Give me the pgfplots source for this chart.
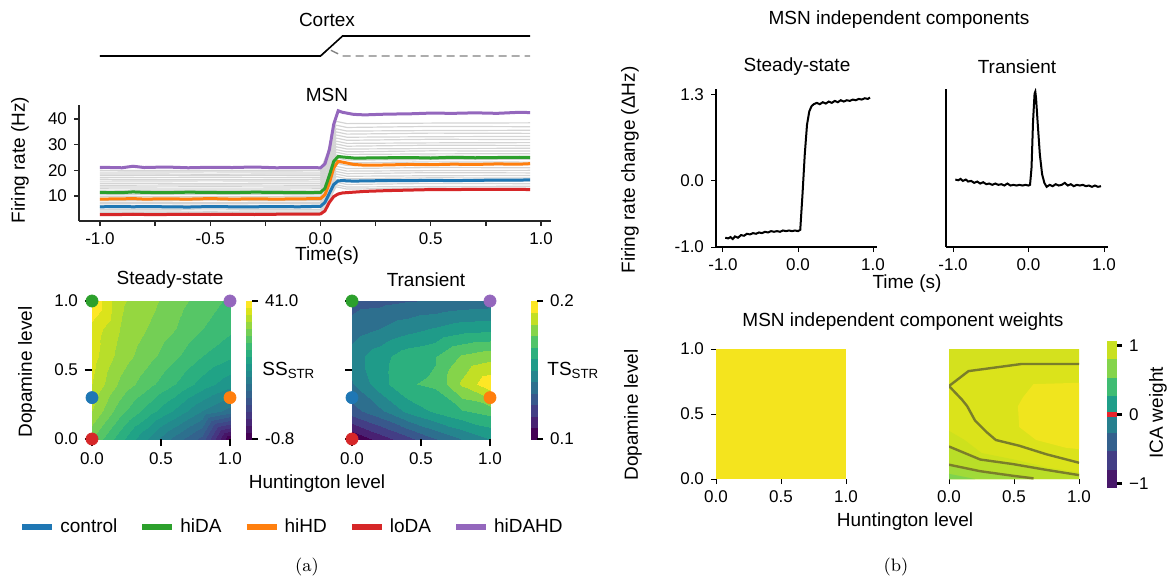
\documentclass[border=0pt]{standalone}
\usepackage{fontspec}
\setsansfont{Liberation Sans}
\usepackage{pgfplots}
\usepackage{pgfplotstable}
\pgfplotsset{compat=1.18}

\definecolor{cctrl}{HTML}{1F77B4}
\definecolor{chida}{HTML}{2CA02C}
\definecolor{chihd}{HTML}{FF7F0E}
\definecolor{cloda}{HTML}{D62728}
\definecolor{chidahd}{HTML}{9467BD}
\definecolor{icayel}{RGB}{244,228,30}
\definecolor{icabase}{RGB}{219,227,27}
\definecolor{icatop}{RGB}{212,225,30}
\definecolor{icabright}{RGB}{240,229,30}
\definecolor{icar1}{RGB}{205,225,29}
\definecolor{icar2}{RGB}{185,222,40}
\definecolor{icar3}{RGB}{160,218,57}
\definecolor{icar4}{RGB}{127,211,78}
\definecolor{cline}{RGB}{122,126,42}

\newcommand{\lab}{\sffamily\fontsize{9.5}{11}\selectfont}
\newcommand{\tck}{\sffamily\fontsize{8.5}{10}\selectfont}

\pgfplotsset{
  every axis/.append style={
    scale only axis, font=\lab,
    tick label style={font=\tck},
    /pgf/number format/assume math mode=true,
    enlargelimits=false,
  },
}

% MSN mean firing rates (Hz)
\pgfplotstableread{
t     ctrl  hida  hihd  loda  hidahd
-1.0  5.8   11.4  8.8   2.8   21.2
-0.9  5.9   11.3  8.9   2.8   21.0
-0.85 5.8   11.6  9.0   2.9   21.6
-0.8  5.9   11.4  8.8   2.8   21.1
-0.7  5.8   11.3  8.9   2.8   21.3
-0.6  5.7   11.5  8.8   2.9   21.0
-0.5  5.9   11.4  9.0   2.8   21.2
-0.4  5.8   11.3  8.8   2.9   21.1
-0.3  5.8   11.5  8.9   2.8   21.3
-0.2  5.9   11.4  8.8   2.9   21.0
-0.1  5.8   11.3  8.9   2.9   21.1
0.0   6.0   11.4  9.0   3.0   21.0
0.02  7.5   13.0  10.5  4.2   22.5
0.04  11.0  18.0  15.0  7.5   28.0
0.06  14.5  23.5  21.0  9.8   38.0
0.08  15.9  25.4  23.5  10.8  43.2
0.1   16.0  25.2  23.2  11.2  42.6
0.15  15.8  24.8  22.3  11.5  41.8
0.2   15.9  24.8  22.0  11.8  41.6
0.3   16.0  24.9  22.1  12.1  41.9
0.4   16.0  25.0  22.3  12.3  42.0
0.5   16.1  24.8  22.2  12.5  42.3
0.6   16.0  25.1  22.4  12.5  42.2
0.7   16.1  24.9  22.3  12.6  42.4
0.8   16.2  25.0  22.5  12.6  42.2
0.9   16.2  25.1  22.4  12.6  42.6
0.95  16.3  25.0  22.6  12.5  42.5
}\msn

% other MSN conditions (grey)
\pgfplotstableread{
t g1 g2 g3 g4 g5 g6 g7 g8 g9 g10 g11 g12 g13 g14 g15 g16 g17 g18 g19 g20 g21 g22 g23 g24
-1.0 3.5 4.2 4.8 5.5 6.3 7.0 7.6 8.3 9.0 9.8 10.5 11.2 12.0 12.8 13.5 14.2 15.0 15.8 16.5 17.2 18.0 18.6 19.3 20.0
-0.5 3.6 4.1 4.9 5.4 6.4 7.1 7.5 8.4 9.1 9.7 10.6 11.1 12.1 12.7 13.6 14.3 14.9 15.9 16.4 17.3 18.1 18.5 19.4 19.9
0.0 3.5 4.2 4.8 5.5 6.3 7.0 7.6 8.3 9.0 9.8 10.5 11.2 12.0 12.8 13.5 14.2 15.0 15.8 16.5 17.2 18.0 18.6 19.3 20.0
0.03 6.8 7.6 8.3 9.1 10.0 10.9 11.6 12.4 13.2 14.1 14.9 15.8 16.7 17.6 18.4 19.2 20.1 21.1 21.9 22.8 23.7 24.6 25.5 26.5
0.07 13.6 14.4 15.4 16.4 17.6 18.6 19.6 20.6 21.6 22.8 23.8 24.9 26.0 27.1 28.1 29.2 30.3 31.4 32.6 33.8 35.0 36.2 37.6 39.1
0.12 12.7 13.5 14.5 15.5 16.7 17.7 18.7 19.7 20.7 21.9 22.9 24.0 25.1 26.2 27.2 28.3 29.4 30.5 31.7 32.9 34.1 35.3 36.7 38.2
0.5 13.1 13.7 14.9 15.7 17.1 17.9 19.1 19.9 21.1 22.1 23.3 24.2 25.5 26.4 27.6 28.5 29.8 30.7 32.1 33.1 34.5 35.5 37.1 38.4
0.95 13.0 13.8 14.8 15.8 17.0 18.0 19.0 20.0 21.0 22.2 23.2 24.3 25.4 26.5 27.5 28.6 29.7 30.8 32.0 33.2 34.4 35.6 37.0 38.5
}\greys

% independent components
\pgfplotstableread{
t v
-0.97 -0.86
-0.93 -0.87
-0.9 -0.85
-0.87 -0.88
-0.84 -0.84
-0.8 -0.86
-0.76 -0.82
-0.72 -0.83
-0.68 -0.80
-0.64 -0.81
-0.6 -0.79
-0.56 -0.80
-0.52 -0.78
-0.48 -0.79
-0.44 -0.77
-0.4 -0.78
-0.36 -0.76
-0.32 -0.77
-0.28 -0.76
-0.24 -0.77
-0.2 -0.75
-0.16 -0.76
-0.12 -0.75
-0.08 -0.76
-0.04 -0.75
0.0 -0.76
0.03 -0.74
0.06 -0.2
0.09 0.4
0.12 0.85
0.15 1.05
0.18 1.13
0.21 1.16
0.25 1.18
0.29 1.16
0.33 1.19
0.37 1.17
0.41 1.20
0.45 1.18
0.49 1.21
0.53 1.19
0.57 1.22
0.61 1.20
0.65 1.22
0.69 1.21
0.73 1.23
0.77 1.22
0.81 1.24
0.85 1.23
0.89 1.25
0.93 1.24
0.96 1.26
}\icass

\pgfplotstableread{
t v
-0.97 0.02
-0.93 0.01
-0.9 0.03
-0.87 0.0
-0.83 0.02
-0.8 -0.01
-0.76 0.0
-0.72 -0.03
-0.68 -0.01
-0.64 -0.04
-0.6 -0.02
-0.56 -0.05
-0.52 -0.04
-0.48 -0.06
-0.44 -0.04
-0.4 -0.06
-0.36 -0.05
-0.32 -0.07
-0.28 -0.04
-0.24 -0.07
-0.2 -0.06
-0.16 -0.07
-0.12 -0.06
-0.08 -0.07
-0.04 -0.06
0.0 -0.07
0.02 -0.06
0.04 0.2
0.06 0.9
0.08 1.32
0.09 1.35
0.1 1.25
0.12 0.9
0.15 0.4
0.18 0.1
0.21 -0.03
0.24 -0.09
0.28 -0.06
0.32 -0.08
0.36 -0.05
0.4 -0.07
0.44 -0.06
0.48 -0.03
0.52 -0.07
0.56 -0.05
0.6 -0.08
0.64 -0.06
0.68 -0.07
0.72 -0.06
0.76 -0.08
0.8 -0.07
0.84 -0.09
0.88 -0.07
0.92 -0.09
0.96 -0.08
}\icats

\begin{document}
\begin{tikzpicture}
\path[use as bounding box] (0,0) rectangle (585.5pt,289.5pt);

% ---------- (a) cortex input ----------
\begin{axis}[at={(39.5pt,259.5pt)}, anchor=south west, width=236pt, height=15pt,
  xmin=-1.095, xmax=1.045, ymin=-0.2, ymax=1.3, hide axis, clip=false]
\addplot[gray, line width=0.7pt, dash pattern=on 4pt off 2.5pt] coordinates {(-1,0) (0,0) (0.035,0.35) (0.1,0) (0.95,0)};
\addplot[black, line width=0.8pt] coordinates {(-1,0) (0,0) (0.1,1) (0.95,1)};
\end{axis}
\node[font=\lab] at (163.5pt,279.5pt) {Cortex};

% ---------- (a) MSN ----------
\begin{axis}[at={(39.5pt,179pt)}, anchor=south west, width=236pt, height=58pt,
  xmin=-1.095, xmax=1.045, ymin=0.27, ymax=45.45,
  axis lines*=left, axis line style={-, line width=0.7pt, black!85},
  tick align=outside, major tick length=2.5pt, minor tick length=2.5pt,
  tick style={black!85, line width=0.6pt},
  xtick={-1,-0.5,0,0.5,1}, xticklabels={-1.0,-0.5,0.0,0.5,1.0},
  minor xtick={-0.75,-0.25,0.25,0.75},
  ytick={10,20,30,40}]
\pgfplotsinvokeforeach{1,...,24}{
  \addplot[black!17, line width=0.6pt] table[x=t, y index=#1] {\greys};
}
\addplot[cloda, line width=1.5pt] table[x=t, y=loda] {\msn};
\addplot[cctrl, line width=1.5pt] table[x=t, y=ctrl] {\msn};
\addplot[chihd, line width=1.5pt] table[x=t, y=hihd] {\msn};
\addplot[chida, line width=1.5pt] table[x=t, y=hida] {\msn};
\addplot[chidahd, line width=1.5pt] table[x=t, y=hidahd] {\msn};
\end{axis}
\node[font=\lab] at (163.5pt,242pt) {MSN};
\node[font=\lab] at (163.5pt,161.5pt) {Time(s)};
\node[font=\lab, rotate=90] at (10pt,209.5pt) {Firing rate (Hz)};

% ---------- (a) steady-state map ----------
\begin{axis}[at={(46pt,70pt)}, anchor=south west, width=69pt, height=69pt,
  view={0}{90}, xmin=0, xmax=1, ymin=0, ymax=1,
  colormap/viridis, point meta min=-0.8, point meta max=41,
  axis line style={draw=none}, axis on top, clip=false,
  tick align=outside, major tick length=3.5pt,
  tick style={black, line width=1.4pt},
  xtick={0,0.5,1}, xticklabels={0.0,0.5,1.0},
  ytick={0,0.5,1}, yticklabels={0.0,0.5,1.0}, ztick=\empty,
  xtick pos=left, ytick pos=left,
  colorbar,
  colorbar style={at={(parent axis.south east)}, anchor=south west, xshift=-0.5pt,
    width=3pt, ytick={-0.8,41}, yticklabels={-0.8,41.0},
    axis line style={draw=none}, major tick length=3pt,
    ytick style={black, line width=1.4pt}, tick align=outside,
    ytick pos=right, yticklabel pos=right}]
\addplot3[contour filled={number=20}, mesh/cols=6] table {
x y z
0 0 30.6
0.2 0 25.1
0.4 0 20.1
0.6 0 15.1
0.8 0 11.0
1 0 -0.8
0 0.2 34.7
0.2 0.2 29.3
0.4 0.2 25.5
0.6 0.2 21.8
0.8 0.2 18.0
1 0.2 15.0
0 0.4 36.8
0.2 0.4 32.2
0.4 0.4 29.3
0.6 0.4 26.4
0.8 0.4 23.4
1 0.4 20.9
0 0.6 37.7
0.2 0.6 33.9
0.4 0.6 31.4
0.6 0.6 28.9
0.8 0.6 26.4
1 0.6 24.7
0 0.8 38.1
0.2 0.8 34.7
0.4 0.8 32.6
0.6 0.8 30.6
0.8 0.8 28.5
1 0.8 26.8
0 1 41.0
0.2 1 35.1
0.4 1 33.5
0.6 1 31.4
0.8 1 29.7
1 1 28.0
};
\addplot3[only marks, mark=*, mark size=3pt, cctrl] coordinates {(0,0.3,41)};
\addplot3[only marks, mark=*, mark size=3pt, chida] coordinates {(0,1,41)};
\addplot3[only marks, mark=*, mark size=3pt, chihd] coordinates {(1,0.3,41)};
\addplot3[only marks, mark=*, mark size=3pt, cloda] coordinates {(0,0,41)};
\addplot3[only marks, mark=*, mark size=3pt, chidahd] coordinates {(1,1,41)};
\end{axis}
\node[font=\lab] at (85pt,149.5pt) {Steady-state};
\node[font=\lab, anchor=west, inner sep=0pt] at (131pt,104.5pt) {SS\textsubscript{STR}};

% ---------- (a) transient map ----------
\begin{axis}[at={(176pt,70pt)}, anchor=south west, width=69pt, height=69pt,
  view={0}{90}, xmin=0, xmax=1, ymin=0, ymax=1,
  colormap/viridis, point meta min=0.1, point meta max=0.2,
  axis line style={draw=none}, axis on top, clip=false,
  tick align=outside, major tick length=3.5pt,
  tick style={black, line width=1.4pt},
  xtick={0,0.5,1}, xticklabels={0.0,0.5,1.0},
  ytick={0,0.5,1}, yticklabels={,,}, ztick=\empty,
  xtick pos=left, ytick pos=left,
  colorbar,
  colorbar style={at={(parent axis.south east)}, anchor=south west, xshift=12pt,
    width=3pt, ytick={0.1,0.2}, yticklabels={0.1,0.2},
    axis line style={draw=none}, major tick length=3pt,
    ytick style={black, line width=1.4pt}, tick align=outside,
    ytick pos=right, yticklabel pos=right}]
\addplot3[contour filled={number=12}, mesh/cols=6] table {
x y z
0 0 0.100
0.2 0 0.112
0.4 0 0.122
0.6 0 0.133
0.8 0 0.142
1 0 0.150
0 0.2 0.130
0.2 0.2 0.140
0.4 0.2 0.152
0.6 0.2 0.160
0.8 0.2 0.166
1 0.2 0.170
0 0.4 0.141
0.2 0.4 0.155
0.4 0.4 0.166
0.6 0.4 0.168
0.8 0.4 0.185
1 0.4 0.198
0 0.6 0.146
0.2 0.6 0.155
0.4 0.6 0.163
0.6 0.6 0.166
0.8 0.6 0.176
1 0.6 0.180
0 0.8 0.137
0.2 0.8 0.142
0.4 0.8 0.147
0.6 0.8 0.151
0.8 0.8 0.155
1 0.8 0.156
0 1 0.130
0.2 1 0.131
0.4 1 0.133
0.6 1 0.134
0.8 1 0.136
1 1 0.137
};
\addplot3[only marks, mark=*, mark size=3pt, cctrl] coordinates {(0,0.3,0.2)};
\addplot3[only marks, mark=*, mark size=3pt, chida] coordinates {(0,1,0.2)};
\addplot3[only marks, mark=*, mark size=3pt, chihd] coordinates {(1,0.3,0.2)};
\addplot3[only marks, mark=*, mark size=3pt, cloda] coordinates {(0,0,0.2)};
\addplot3[only marks, mark=*, mark size=3pt, chidahd] coordinates {(1,1,0.2)};
\end{axis}
\node[font=\lab] at (213pt,149.5pt) {Transient};
\node[font=\lab, anchor=west, inner sep=0pt] at (273.5pt,104.5pt) {TS\textsubscript{STR}};
\node[font=\lab, rotate=90] at (13.5pt,103.5pt) {Dopamine level};
\node[font=\lab] at (158.5pt,47.5pt) {Huntington level};

% ---------- (a) legend ----------
\begin{axis}[at={(9.5pt,26pt)}, anchor=west, width=1pt, height=1pt,
  hide axis, xmin=0, xmax=1, ymin=0, ymax=1,
  legend columns=5,
  legend image code/.code={\draw[#1, line width=3pt] (0pt,0pt) -- (15pt,0pt);},
  legend style={draw=none, fill=none, at={(0,0.5)}, anchor=west, inner sep=0pt,
    font=\lab, /tikz/every even column/.append style={column sep=9pt},
    /tikz/every odd column/.append style={column sep=0.5pt}}]
\addlegendimage{cctrl}\addlegendentry{control}
\addlegendimage{chida}\addlegendentry{hiDA}
\addlegendimage{chihd}\addlegendentry{hiHD}
\addlegendimage{cloda}\addlegendentry{loDA}
\addlegendimage{chidahd}\addlegendentry{hiDAHD}
\end{axis}

% ---------- (b) independent components ----------
\begin{axis}[at={(358pt,166pt)}, anchor=south west, width=80.5pt, height=79pt,
  xmin=-1.093, xmax=1.053, ymin=-1, ymax=1.39,
  axis lines*=left, axis line style={-, line width=0.6pt, black},
  tick align=outside, major tick length=2.5pt, tick style={black, line width=0.5pt},
  xtick={-1,0,1}, xticklabels={-1.0,0.0,1.0},
  ytick={-1,0,1.3}, yticklabels={-1.0,0.0,1.3}]
\addplot[black, line width=1pt] table[x=t, y=v] {\icass};
\end{axis}
\begin{axis}[at={(473pt,166pt)}, anchor=south west, width=81pt, height=79pt,
  xmin=-1.093, xmax=1.053, ymin=-1, ymax=1.39,
  axis lines*=left, axis line style={-, line width=0.6pt, black},
  tick align=outside, major tick length=2.5pt, tick style={black, line width=0.5pt},
  xtick={-1,0,1}, xticklabels={-1.0,0.0,1.0}, ytick=\empty]
\addplot[black, line width=1pt] table[x=t, y=v] {\icats};
\end{axis}
\node[font=\lab] at (449.5pt,279.5pt) {MSN independent components};
\node[font=\lab] at (398.5pt,256pt) {Steady-state};
\node[font=\lab] at (508.5pt,256pt) {Transient};
\node[font=\lab, rotate=90] at (315pt,204.5pt) {Firing rate change (ΔHz)};
\node[font=\lab] at (453.5pt,147.5pt) {Time (s)};

% ---------- (b) component weights ----------
\begin{axis}[at={(358pt,50pt)}, anchor=south west, width=65pt, height=65pt,
  xmin=0, xmax=1, ymin=0, ymax=1, axis line style={draw=none},
  tick align=outside, major tick length=2.5pt, tick style={black, line width=0.5pt},
  xtick={0,0.5,1}, xticklabels={0.0,0.5,1.0}, ytick={0,0.5,1}, yticklabels={0.0,0.5,1.0},
  xtick pos=left, ytick pos=left]
\addplot[fill=icayel, draw=none] coordinates {(0,0) (1,0) (1,1) (0,1)} -- cycle;
\end{axis}
\begin{axis}[at={(474.5pt,50pt)}, anchor=south west, width=65pt, height=65pt,
  xmin=0, xmax=1, ymin=0, ymax=1, axis line style={draw=none},
  tick align=outside, major tick length=2.5pt, tick style={black, line width=0.5pt},
  xtick={0,0.5,1}, xticklabels={0.0,0.5,1.0}, ytick=\empty, xtick pos=left]
\addplot[fill=icabase, draw=none] coordinates {(0,0) (1,0) (1,1) (0,1)} -- cycle;
\addplot[fill=icatop, draw=none] coordinates {(0,1) (0,0.715) (0.15,0.83) (0.56,0.885) (1,0.885) (1,1)} -- cycle;
\addplot[fill=icabright, draw=none] coordinates {(1,0.74) (0.65,0.73) (0.57,0.63) (0.53,0.56) (0.54,0.40) (0.67,0.30) (0.9,0.24) (1,0.23)} -- cycle;
\addplot[fill=icar1, draw=none] coordinates {(0,0) (0,0.37) (0.12,0.3) (0.25,0.2) (0.5,0.15) (0.75,0.09) (1,0.05) (1,0)} -- cycle;
\addplot[fill=icar2, draw=none] coordinates {(0,0) (0,0.25) (0.24,0.15) (0.49,0.115) (0.75,0.07) (1,0.03) (1,0)} -- cycle;
\addplot[fill=icar3, draw=none] coordinates {(0,0) (0,0.11) (0.24,0.06) (0.49,0.025) (0.65,0)} -- cycle;
\addplot[fill=icar4, draw=none] coordinates {(0,0) (0,0.04) (0.1,0.02) (0.2,0)} -- cycle;
\addplot[cline, line width=1.2pt] coordinates {(0,0.715) (0.15,0.83) (0.56,0.885) (1,0.885)};
\addplot[cline, line width=1.2pt] coordinates {(0,0.715) (0.1,0.61) (0.14,0.56) (0.2,0.45) (0.29,0.36) (0.36,0.3) (0.54,0.256) (0.75,0.19) (1,0.125)};
\addplot[cline, line width=1.2pt] coordinates {(0,0.25) (0.24,0.15) (0.49,0.115) (0.75,0.07) (1,0.03)};
\addplot[cline, line width=1.2pt] coordinates {(0,0.11) (0.24,0.06) (0.49,0.025) (0.65,0.005)};
\end{axis}
% ICA weight colour bar
\begin{axis}[at={(553.5pt,45.5pt)}, anchor=south west, width=5pt, height=73.5pt,
  xmin=0, xmax=1, ymin=-1.07, ymax=1.07, axis line style={draw=none},
  xtick=\empty, ytick={-1,0,1}, yticklabels={−1,0,1},
  ytick pos=right, yticklabel pos=right,
  tick align=outside, major tick length=2.5pt, tick style={black, line width=1.4pt}]
\addplot[fill={rgb,255:red,72;green,24;blue,106}, draw=none] coordinates {(0,-1.07) (1,-1.07) (1,-0.8025) (0,-0.8025)} -- cycle;
\addplot[fill={rgb,255:red,67;green,62;blue,133}, draw=none] coordinates {(0,-0.8025) (1,-0.8025) (1,-0.535) (0,-0.535)} -- cycle;
\addplot[fill={rgb,255:red,52;green,96;blue,141}, draw=none] coordinates {(0,-0.535) (1,-0.535) (1,-0.2675) (0,-0.2675)} -- cycle;
\addplot[fill={rgb,255:red,39;green,127;blue,142}, draw=none] coordinates {(0,-0.2675) (1,-0.2675) (1,0) (0,0)} -- cycle;
\addplot[fill={rgb,255:red,31;green,158;blue,137}, draw=none] coordinates {(0,0) (1,0) (1,0.2675) (0,0.2675)} -- cycle;
\addplot[fill={rgb,255:red,63;green,188;blue,115}, draw=none] coordinates {(0,0.2675) (1,0.2675) (1,0.535) (0,0.535)} -- cycle;
\addplot[fill={rgb,255:red,132;green,212;blue,75}, draw=none] coordinates {(0,0.535) (1,0.535) (1,0.8025) (0,0.8025)} -- cycle;
\addplot[fill={rgb,255:red,200;green,224;blue,32}, draw=none] coordinates {(0,0.8025) (1,0.8025) (1,1.07) (0,1.07)} -- cycle;
\addplot[fill={rgb,255:red,232;green,36;blue,44}, draw=none] coordinates {(0,-0.04) (1,-0.04) (1,0.04) (0,0.04)} -- cycle;
\end{axis}
\node[font=\lab] at (451.5pt,128.5pt) {MSN independent component weights};
\node[font=\lab, rotate=90] at (316.5pt,82pt) {Dopamine level};
\node[font=\lab] at (452.5pt,28.5pt) {Huntington level};
\node[font=\lab, rotate=90] at (579pt,83pt) {ICA weight};

% captions
\node[font=\rmfamily\fontsize{9}{11}\selectfont] at (153.5pt,6pt) {(a)};
\node[font=\rmfamily\fontsize{9}{11}\selectfont] at (448pt,6pt) {(b)};
\end{tikzpicture}
\end{document}
